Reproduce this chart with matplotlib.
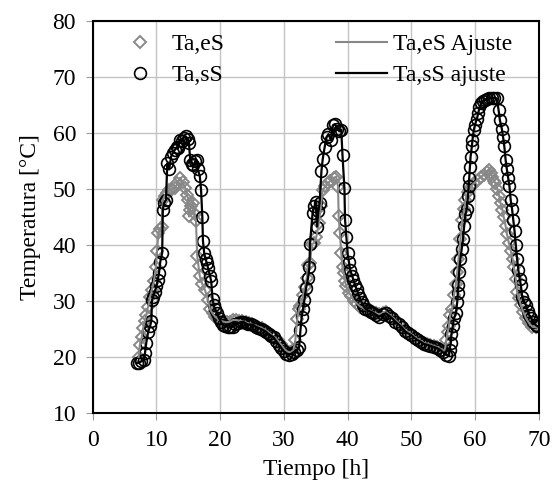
import matplotlib
matplotlib.use("Agg")
import matplotlib.pyplot as plt

# Ta,eS (grey diamonds)
t_es = [7.2, 7.4, 7.7, 7.9, 8.2, 8.4, 8.7, 9.0, 9.3, 9.6, 9.9, 10.1, 10.3, 10.6, 10.8,
        11.0, 11.3, 11.6, 12.0, 12.4, 12.9, 13.3, 13.7, 14.1, 14.5, 14.8, 15.0, 15.1,
        15.3, 15.5, 15.8, 16.0, 16.2, 16.4, 16.6, 16.8, 17.2, 17.6, 18.1, 18.4, 18.8,
        19.2, 19.6, 20.0, 20.5, 21.0, 21.5, 22.0, 22.5, 23.0, 23.5, 24.0, 24.5, 25.0,
        25.5, 26.0, 26.5, 27.0, 27.5, 28.0, 28.5, 29.0, 29.5, 30.0, 30.5, 31.0, 31.5,
        31.8, 32.1, 32.4, 32.6, 33.0, 33.3, 33.6, 33.8, 34.1, 34.4, 34.7, 35.1, 35.5,
        35.8, 36.1, 36.5, 36.9, 37.3, 37.8, 38.2, 38.5, 38.6, 38.8, 39.0, 39.2, 39.4,
        39.6, 39.8, 40.2, 40.6, 41.0, 41.5, 42.0, 42.5, 43.0, 43.5, 44.0, 44.5, 45.0,
        45.5, 46.0, 46.5, 47.0, 47.5, 48.0, 48.5, 49.0, 49.5, 50.0, 50.5, 51.0, 51.5,
        52.0, 52.5, 53.0, 53.5, 54.0, 54.5, 55.0, 55.3, 55.5, 55.7, 55.9, 56.1, 56.4,
        56.7, 57.0, 57.2, 57.4, 57.7, 58.0, 58.3, 58.5, 58.9, 59.3, 59.8, 60.4, 60.9,
        61.4, 61.8, 62.2, 62.5, 62.7, 63.0, 63.2, 63.5, 63.8, 64.0, 64.3, 64.5, 64.8,
        65.0, 65.3, 65.6, 65.9, 66.1, 66.4, 66.6, 66.9, 67.2, 67.6, 68.0, 68.5, 69.0,
        69.5, 70.0]
T_es = [20.0, 22.2, 23.5, 25.1, 26.5, 27.5, 29.0, 30.8, 32.0, 33.5, 36.0, 39.0, 42.1, 42.8, 43.3,
        48.1, 48.8, 49.3, 49.8, 50.0, 50.2, 51.0, 52.0, 51.2, 50.2, 49.0, 48.1, 45.1,
        46.3, 47.0, 47.5, 45.5, 44.2, 38.0, 36.2, 34.4, 33.0, 32.0, 30.2, 28.5, 27.8,
        27.2, 26.8, 26.5, 26.3, 26.2, 26.3, 26.6, 26.6, 26.5, 26.4, 26.2, 26.0, 25.8,
        25.6, 25.4, 25.2, 24.9, 24.5, 24.0, 23.6, 23.0, 22.3, 21.5, 21.0, 20.8, 21.2,
        23.0, 26.8, 28.6, 29.1, 31.0, 32.5, 34.1, 36.5, 36.8, 40.2, 40.3, 41.5, 44.0,
        47.0, 49.8, 50.5, 51.0, 51.5, 52.0, 52.2, 50.4, 45.1, 42.1, 38.6, 36.0, 35.0,
        33.5, 32.6, 31.5, 30.9, 30.0, 29.5, 29.0, 28.7, 28.4, 28.3, 28.0, 27.8, 27.6,
        27.9, 28.0, 27.6, 27.1, 26.6, 26.0, 25.5, 24.9, 24.5, 24.1, 23.6, 23.2, 22.9,
        22.5, 22.4, 22.2, 22.0, 21.8, 21.5, 21.0, 21.5, 23.0, 24.5, 25.5, 27.5, 28.6,
        31.0, 33.0, 35.1, 37.5, 41.0, 44.5, 46.5, 48.1, 49.5, 50.4, 51.0, 51.6, 52.2,
        52.5, 53.0, 53.4, 52.8, 52.2, 51.5, 51.0, 50.0, 48.7, 47.5, 46.3, 45.0, 43.4,
        42.0, 40.4, 39.0, 37.5, 36.0, 33.9, 31.6, 30.5, 29.2, 28.0, 26.9, 26.0, 25.4,
        25.3, 25.5]

# Ta,sS (black circles)
t_ss = [6.9, 7.3, 7.6, 8.0, 8.2, 8.4, 8.7, 9.0, 9.2, 9.3, 9.5, 9.7, 10.0, 10.2, 10.4,
        10.6, 10.9, 11.0, 11.2, 11.5, 11.7, 12.0, 12.3, 12.6, 12.9, 13.2, 13.4, 13.7,
        14.0, 14.3, 14.6, 14.9, 15.1, 15.3, 15.6, 15.8, 16.1, 16.3, 16.5, 16.8, 17.0,
        17.2, 17.3, 17.5, 17.7, 17.9, 18.1, 18.4, 18.6, 18.8, 19.0, 19.2, 19.5, 19.8,
        20.1, 20.4, 20.8, 21.2, 21.6, 22.0, 22.4, 22.8, 23.2, 23.6, 24.0, 24.4, 24.8,
        25.2, 25.6, 26.0, 26.4, 26.8, 27.2, 27.6, 28.0, 28.4, 28.8, 29.2, 29.6, 30.0,
        30.4, 30.8, 31.2, 31.6, 32.0, 32.4, 32.6, 32.8, 33.0, 33.2, 33.5, 33.8, 34.0,
        34.1, 34.5, 34.8, 35.0, 35.2, 35.4, 35.6, 35.9, 36.1, 36.4, 36.7, 37.0, 37.4,
        37.7, 38.0, 38.4, 38.7, 39.0, 39.2, 39.5, 39.6, 39.8, 40.0, 40.2, 40.4, 40.7,
        40.9, 41.2, 41.4, 41.7, 41.9, 42.2, 42.4, 42.8, 43.2, 43.6, 44.0, 44.5, 45.0,
        45.5, 46.0, 46.5, 47.0, 47.5, 48.0, 48.5, 49.0, 49.5, 50.0, 50.5, 51.0, 51.5,
        52.0, 52.5, 53.0, 53.5, 54.0, 54.5, 55.0, 55.5, 55.9, 56.0, 56.2, 56.3, 56.5,
        56.7, 57.0, 57.2, 57.3, 57.4, 57.5, 57.7, 57.9, 58.1, 58.3, 58.5, 58.7, 58.9,
        59.0, 59.1, 59.2, 59.3, 59.5, 59.6, 59.8, 60.0, 60.3, 60.5, 60.7, 61.0, 61.3,
        61.6, 61.9, 62.2, 62.6, 63.0, 63.4, 63.7, 63.9, 64.2, 64.4, 64.6, 64.8, 65.0,
        65.2, 65.4, 65.6, 65.8, 66.0, 66.2, 66.4, 66.6, 66.8, 67.0, 67.2, 67.4, 67.7,
        68.0, 68.3, 68.5, 68.8, 69.1, 69.5, 69.8]
T_ss = [18.9, 19.0, 19.2, 19.5, 20.7, 22.5, 24.5, 25.5, 26.4, 30.2, 30.8, 31.6, 32.6, 33.8, 35.0,
        37.0, 38.6, 46.3, 47.5, 48.1, 54.6, 53.5, 55.8, 56.5, 57.0, 57.5, 57.3, 58.8,
        58.5, 59.2, 59.4, 59.0, 58.2, 55.2, 54.5, 54.3, 55.0, 55.2, 53.5, 52.3, 49.9,
        45.0, 40.7, 38.5, 37.5, 36.8, 35.9, 34.5, 33.5, 30.4, 29.2, 28.5, 27.8, 27.0,
        26.3, 25.7, 25.5, 25.4, 25.3, 25.4, 25.8, 26.0, 26.2, 26.3, 26.0, 25.8, 25.8,
        25.7, 25.4, 25.2, 25.0, 24.8, 24.5, 24.1, 23.8, 23.5, 22.8, 22.2, 21.6, 21.0,
        20.6, 20.4, 20.6, 20.9, 21.2, 21.8, 24.8, 27.2, 28.5, 30.1, 32.4, 34.1, 36.0,
        40.2, 45.7, 46.9, 47.6, 43.3, 46.0, 47.5, 53.3, 55.4, 57.5, 59.3, 59.8, 58.7,
        61.4, 61.6, 60.8, 60.3, 60.6, 56.0, 50.1, 44.5, 41.4, 38.5, 37.0, 35.6, 34.5,
        33.8, 32.8, 32.1, 31.2, 30.6, 29.8, 29.2, 28.6, 28.3, 28.1, 27.9, 27.5, 27.2,
        27.6, 27.8, 27.4, 26.9, 26.3, 25.8, 25.3, 24.6, 24.2, 23.9, 23.4, 23.0, 22.7,
        22.3, 22.2, 22.0, 21.8, 21.6, 21.3, 20.8, 20.4, 20.2, 21.3, 22.5, 24.1, 25.5,
        26.9, 27.8, 29.8, 31.5, 32.8, 35.1, 37.5, 39.2, 41.0, 43.4, 45.5, 46.5, 48.7,
        50.5, 52.0, 54.0, 55.8, 57.6, 58.8, 60.5, 61.5, 62.6, 63.5, 64.6, 65.3, 65.8,
        65.9, 66.0, 66.2, 66.2, 66.3, 66.2, 64.1, 62.3, 60.8, 59.3, 57.6, 55.2, 53.5,
        52.0, 50.5, 48.0, 46.5, 44.5, 42.5, 40.0, 37.5, 35.5, 34.0, 32.8, 30.7, 29.8,
        29.2, 28.2, 27.5, 27.0, 26.3, 25.7, 25.5]

plt.rcParams["font.family"] = ["Liberation Serif", "DejaVu Serif"]
plt.rcParams["font.size"] = 17

fig = plt.figure(figsize=(5.52, 4.91), dpi=100)
ax = fig.add_axes([0.168, 0.159, 0.808, 0.798])

grey = "#888888"
ax.plot(t_es, T_es, linestyle="none", marker="D", markersize=6.5, markerfacecolor="none",
        markeredgecolor=grey, markeredgewidth=1.4, label="Ta,eS")
ax.plot(t_ss, T_ss, linestyle="none", marker="o", markersize=8.5, markerfacecolor="none",
        markeredgecolor="black", markeredgewidth=1.2, label="Ta,sS")
ax.plot(t_es, T_es, color=grey, linewidth=1.5, label="Ta,eS Ajuste")
ax.plot(t_ss, T_ss, color="black", linewidth=1.6, label="Ta,sS ajuste")

ax.set_xlim(0, 70)
ax.set_ylim(10, 80)
ax.set_xticks(range(0, 71, 10))
ax.set_yticks(range(10, 81, 10))
ax.grid(True, color="#c4c4c4", linewidth=1)
ax.set_axisbelow(True)
for s in ax.spines.values():
    s.set_linewidth(1.5)
ax.tick_params(direction="out", length=5, color="#9a9a9a", pad=7)

ax.set_xlabel("Tiempo [h]", labelpad=6)
ax.set_ylabel("Temperatura [°C]", labelpad=8)

ax.legend(loc="upper left", bbox_to_anchor=(0.047, 0.968), ncol=2, frameon=False,
          borderpad=0, borderaxespad=0, handlelength=2.2, handletextpad=0.25,
          columnspacing=4.7, labelspacing=0.4)

fig.savefig("out.png", dpi=100)
